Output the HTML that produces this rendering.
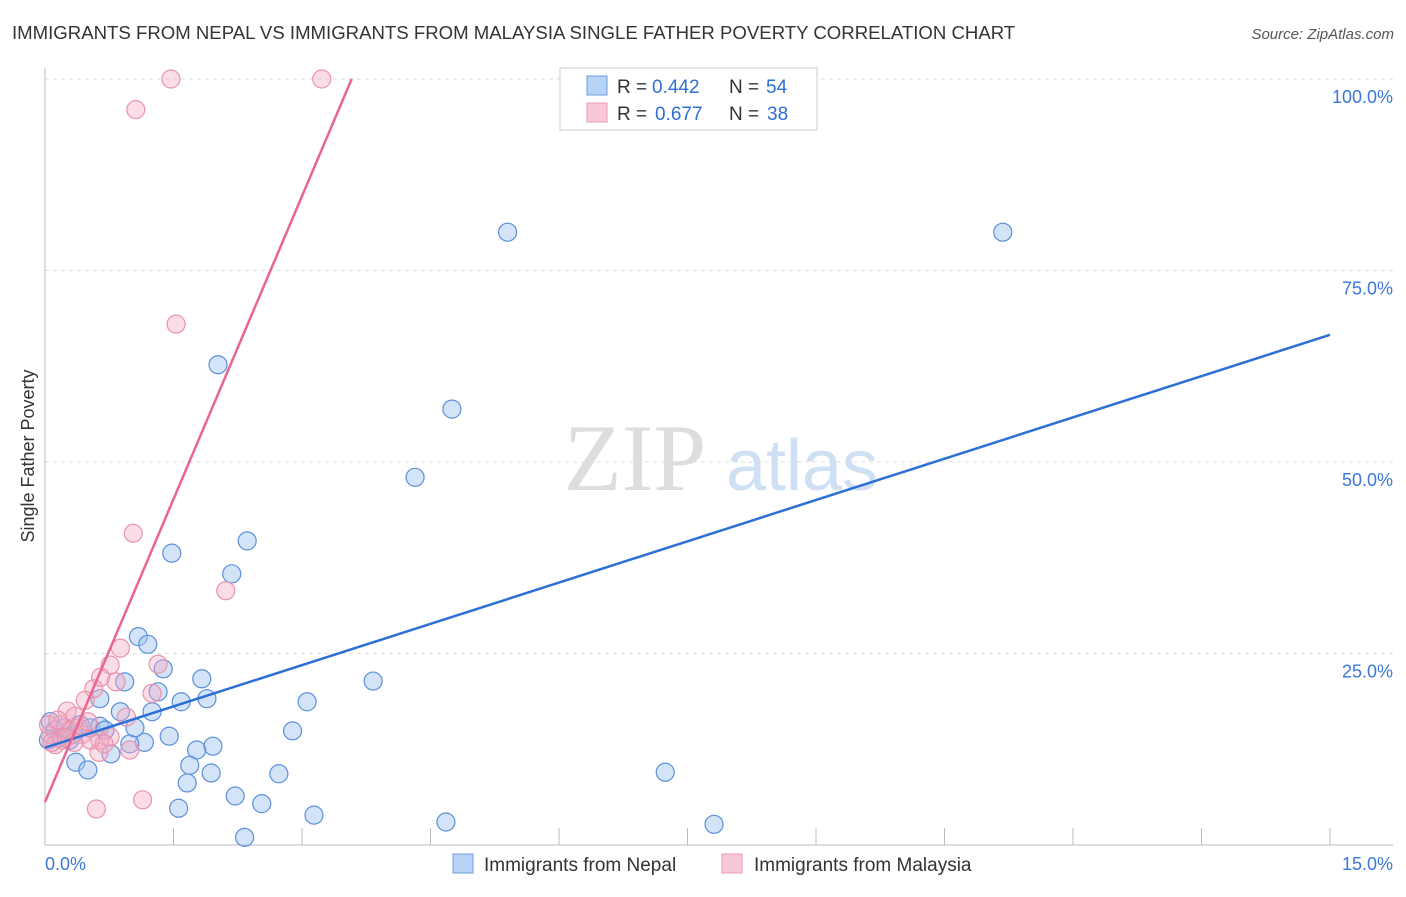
<!DOCTYPE html>
<html><head><meta charset="utf-8"><style>
body{margin:0;background:#fff;font-family:"Liberation Sans",sans-serif}
</style></head><body>
<svg width="1406" height="892" font-family="Liberation Sans, sans-serif">
<text x="12" y="39" font-size="18.6" fill="#333">IMMIGRANTS FROM NEPAL VS IMMIGRANTS FROM MALAYSIA SINGLE FATHER POVERTY CORRELATION CHART</text>
<text x="1394" y="39" font-size="15" fill="#555" font-style="italic" text-anchor="end">Source: ZipAtlas.com</text>
<text transform="translate(34,456) rotate(-90)" font-size="18" fill="#333" text-anchor="middle">Single Father Poverty</text>
<text x="635" y="490" font-size="95" fill="#ddd" font-family="Liberation Serif, serif" text-anchor="middle">ZIP</text>
<text x="802" y="490" font-size="72" fill="#cfe0f5" text-anchor="middle">atlas</text>
<g id="grid"></g><g id="pts"></g><g id="lines"></g>
<g>
<rect x="560" y="68" width="257" height="62" fill="#fff" stroke="#ccc"/>
<rect x="587" y="76" width="20" height="19" fill="#b8d3f5" stroke="#6d9ee0"/>
<rect x="587" y="103" width="20" height="19" fill="#f9c8d6" stroke="#eb9ab3"/>
<text x="617" y="93" font-size="19" fill="#333">R =</text>
<text x="652" y="93" font-size="19" fill="#2d6fd6">0.442</text>
<text x="729" y="93" font-size="19" fill="#333">N =</text>
<text x="766" y="93" font-size="19" fill="#2d6fd6">54</text>
<text x="617" y="120" font-size="19" fill="#333">R =</text>
<text x="655" y="120" font-size="19" fill="#2d6fd6">0.677</text>
<text x="729" y="120" font-size="19" fill="#333">N =</text>
<text x="767" y="120" font-size="19" fill="#2d6fd6">38</text>
</g>
<g>
<rect x="453" y="854" width="20" height="19" fill="#b8d3f5" stroke="#6d9ee0"/>
<text x="484" y="871" font-size="19" fill="#333">Immigrants from Nepal</text>
<rect x="722" y="854" width="20" height="19" fill="#f9c8d6" stroke="#eb9ab3"/>
<text x="754" y="871" font-size="19" fill="#333">Immigrants from Malaysia</text>
</g>
<text x="45" y="870" font-size="18" fill="#3b78d8">0.0%</text>
<text x="1393" y="870" font-size="18" fill="#3b78d8" text-anchor="end">15.0%</text>
</svg>
<script>
const yTicks=[25,50,75,100];
const yTickLabels=["25.0%","50.0%","75.0%","100.0%"];
const nepalX=[5.40,11.18,2.02,4.75,4.32,2.36,1.48,2.18,1.09,1.20,1.38,1.32,0.93,1.83,3.83,0.64,1.59,1.89,3.06,1.25,0.88,2.89,1.45,1.16,0.99,1.96,1.77,0.77,0.36,0.50,1.69,1.94,2.73,7.24,1.66,2.22,2.53,1.56,3.14,4.68,7.81,2.33,0.06,0.12,0.18,0.23,0.32,0.41,0.53,0.64,0.70,1.05,0.04,0.29];
const nepalY=[80.0,80.0,62.7,56.9,48.0,39.7,38.1,35.4,27.2,26.2,23.0,20.0,21.3,21.7,21.4,19.1,18.7,19.1,18.7,17.4,17.4,14.9,14.2,13.4,13.2,12.9,12.4,11.9,10.8,9.8,10.4,9.4,9.3,9.5,8.1,6.4,5.4,4.8,3.9,3.0,2.7,1.0,16.1,15.0,14.0,15.3,14.4,15.7,15.3,15.5,15.0,15.3,13.7,13.7];
const malX=[1.47,3.23,1.06,1.53,1.03,2.11,0.88,1.32,0.76,0.57,0.65,0.83,1.25,0.47,0.95,0.26,0.35,0.64,0.99,0.76,0.63,0.69,1.14,0.60,0.06,0.12,0.18,0.20,0.29,0.39,0.43,0.50,0.04,0.08,0.15,0.25,0.34,0.53];
const malY=[100,100,96.0,68.0,40.7,33.2,25.7,23.6,23.5,20.4,21.9,21.3,19.8,18.9,16.7,17.5,16.8,13.7,12.4,14.1,12.1,13.2,5.9,4.7,14.4,13.1,15.7,13.7,15.0,15.3,14.4,16.1,15.7,13.4,16.3,14.0,13.4,13.7];
const nepalTrendX=[0,15], nepalTrendY=[12.7,66.6];
const malTrendX=[0,3.58], malTrendY=[5.6,100];
const NS='http://www.w3.org/2000/svg';
const sx=v=>45+v/15*1285, sy=v=>845-v*7.66;
function mk(t,a,p){const e=document.createElementNS(NS,t);for(const k in a)e.setAttribute(k,a[k]);p.appendChild(e);return e;}
const g=document.getElementById('grid');
yTicks.forEach((t,i)=>{
 const l=mk('line',{x1:45,x2:1393,y1:sy(t),y2:sy(t),stroke:'#ddd','stroke-dasharray':'4,4'},g);
 
 
 const tx=mk('text',{x:1393,y:sy(t)+24,'font-size':18,fill:'#3b78d8','text-anchor':'end'},g);
 tx.textContent=yTickLabels[i];
 
 
});
for(let i=0;i<=10;i++){const t=mk('line',{x1:sx(i*1.5),x2:sx(i*1.5),y1:845,y2:i==0?68:828,stroke:'#bbb'},g);
 
 }
const ax=mk('line',{x1:45,x2:1393,y1:845,y2:845,stroke:'#bbb'},g);


const pg=document.getElementById('pts');
nepalX.forEach((x,i)=>{const c=mk('circle',{cx:sx(x),cy:sy(nepalY[i]),r:9,fill:'rgba(160,195,240,0.45)',stroke:'#5b8fdb','stroke-width':1.2},pg);
 
 });
malX.forEach((x,i)=>{const c=mk('circle',{cx:sx(x),cy:sy(malY[i]),r:9,fill:'rgba(245,170,195,0.4)',stroke:'#e893ad','stroke-width':1.2},pg);
 
 });
const lg=document.getElementById('lines');
const b=mk('line',{x1:sx(nepalTrendX[0]),y1:sy(nepalTrendY[0]),x2:sx(nepalTrendX[1]),y2:sy(nepalTrendY[1]),stroke:'#2d6fd6','stroke-width':2.5},lg);


const p=mk('line',{x1:sx(malTrendX[0]),y1:sy(malTrendY[0]),x2:sx(malTrendX[1]),y2:sy(malTrendY[1]),stroke:'#e8668f','stroke-width':2.5},lg);


</script>
</body></html>
